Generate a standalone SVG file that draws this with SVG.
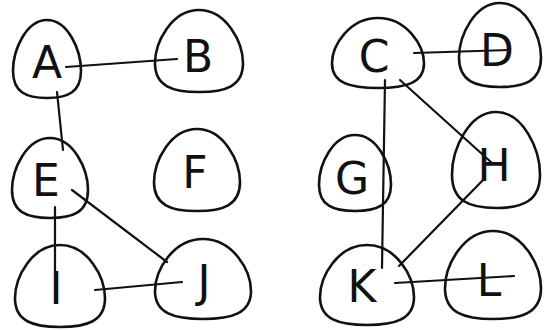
<svg xmlns="http://www.w3.org/2000/svg" xmlns:xlink="http://www.w3.org/1999/xlink" width="544" height="330" viewBox="0 0 544 330">
<style>
.blob{fill:none;stroke:#111;stroke-width:2.6;stroke-linejoin:round}
.lbl{font-family:"DejaVu Sans","Liberation Sans",sans-serif;font-size:44px;font-weight:normal;fill:#111;text-anchor:middle;dominant-baseline:central}
.edge{stroke:#111;stroke-width:2.2;stroke-linecap:round;fill:none}
</style>
<defs>
<path id="pick" d="M 0,-1 C 0.62,-1 1,-0.22 1,0.3 C 1,0.86 0.6,1 0,1 C -0.6,1 -1,0.86 -1,0.3 C -1,-0.22 -0.62,-1 0,-1 Z" vector-effect="non-scaling-stroke"/>
</defs>
<rect width="544" height="330" fill="#fff"/>
<g id="connectors">
<line class="edge" x1="66" y1="67" x2="177" y2="59"/>
<line class="edge" x1="57" y1="92" x2="63" y2="150"/>
<line class="edge" x1="55" y1="207" x2="55" y2="272"/>
<line class="edge" x1="72" y1="190" x2="167" y2="262"/>
<line class="edge" x1="95" y1="290" x2="182" y2="282"/>
<line class="edge" x1="414" y1="53" x2="509" y2="50"/>
<line class="edge" x1="385" y1="80" x2="382" y2="268"/>
<line class="edge" x1="400" y1="80" x2="492" y2="163"/>
<line class="edge" x1="485" y1="178" x2="399" y2="266"/>
<line class="edge" x1="395" y1="283" x2="514" y2="276"/>
</g>
<g id="A"><use href="#pick" class="blob" transform="translate(47,59) scale(34,39)"/><text class="lbl" x="47" y="62">A</text></g>
<g id="B"><use href="#pick" class="blob" transform="translate(199,51) scale(44,41)"/><text class="lbl" x="198" y="56">B</text></g>
<g id="C"><use href="#pick" class="blob" transform="translate(378,53) scale(46,35)"/><text class="lbl" x="374" y="56">C</text></g>
<g id="D"><use href="#pick" class="blob" transform="translate(500,45) scale(41,42)"/><text class="lbl" x="497" y="50">D</text></g>
<g id="E"><use href="#pick" class="blob" transform="translate(50,178) scale(38,40)"/><text class="lbl" x="46" y="180">E</text></g>
<g id="F"><use href="#pick" class="blob" transform="translate(197,170) scale(43,41)"/><text class="lbl" x="195" y="172">F</text></g>
<g id="G"><use href="#pick" class="blob" transform="translate(355,173) scale(36,38)"/><text class="lbl" x="352" y="178">G</text></g>
<g id="H"><use href="#pick" class="blob" transform="translate(496,160) scale(44,48)"/><text class="lbl" x="494" y="165">H</text></g>
<g id="I"><use href="#pick" class="blob" transform="translate(60,286) scale(45,41)"/><text class="lbl" x="56" y="288">I</text></g>
<g id="J"><use href="#pick" class="blob" transform="translate(203,279) scale(48,40)"/><text class="lbl" x="204" y="281">J</text></g>
<g id="K"><use href="#pick" class="blob" transform="translate(367,285) scale(47,40)"/><text class="lbl" x="362" y="286">K</text></g>
<g id="L"><use href="#pick" class="blob" transform="translate(493,275) scale(48,44)"/><text class="lbl" x="489" y="280">L</text></g>
</svg>
